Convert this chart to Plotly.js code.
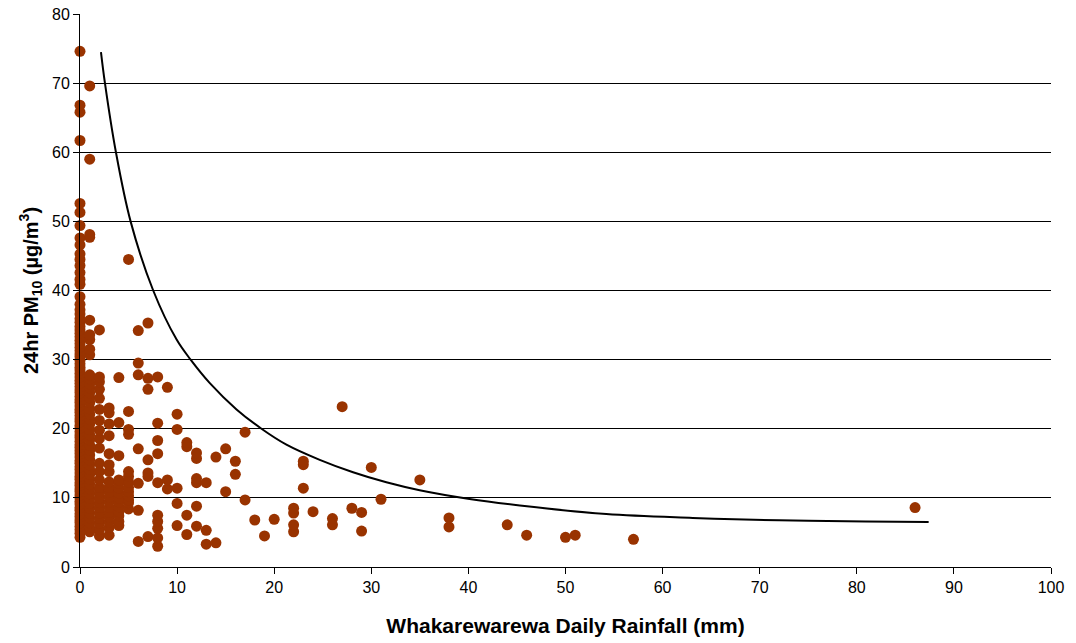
<!DOCTYPE html>
<html>
<head>
<meta charset="utf-8">
<script src="https://cdn.plot.ly/plotly-3.0.1.min.js"></script>
<style>
html,body{margin:0;padding:0;background:#fff;}
#chart{width:1076px;height:643px;}
</style>
</head>
<body>
<div id="chart"></div>
<script>
// Daily rainfall (mm) values at which PM10 observations occur
const rainfallMm = [0,1,2,3,4,5,6,7,8,9,10,11,12,13,14,15,16,17,18,19,20,22,23,24,26,27,28,29,30,31,35,38,44,46,50,51,57,86];

// 24hr PM10 observations (µg/m3) for each rainfall value above
const pm10ByRainfall = [
  [4.3,4.9,5.4,5.9,6.4,6.8,7.3,7.7,8.2,8.6,9.1,9.5,10.0,10.4,10.9,11.3,11.8,12.2,12.7,13.1,13.6,14.1,14.5,15.0,15.4,15.9,16.4,16.8,17.3,17.7,18.2,18.7,19.1,19.6,20.1,20.5,21.0,21.4,21.9,22.4,22.8,23.3,23.8,24.2,24.7,25.2,25.6,26.1,26.6,27.0,27.5,28.0,28.5,28.9,29.4,29.9,30.4,30.8,31.3,31.8,32.3,32.8,33.3,33.8,34.3,34.8,35.4,35.9,36.6,37.2,38.0,39.1,40.9,41.6,42.6,43.6,44.5,45.3,46.6,47.6,49.4,51.3,52.6,61.7,65.8,66.8,74.6],
  [5.1,5.7,6.4,7.1,7.8,8.5,9.2,9.9,10.6,11.3,12.0,12.7,13.4,14.1,14.8,15.5,16.2,16.9,17.6,18.4,19.1,19.9,20.7,21.4,22.1,22.9,23.8,24.5,25.2,25.9,26.5,27.2,27.8,30.7,31.5,32.9,33.6,35.7,47.7,48.1,59.0,69.6],
  [4.5,5.4,6.3,7.0,7.8,8.6,9.3,10.0,10.8,11.5,12.6,13.8,15.0,17.2,18.6,19.8,21.2,22.8,24.4,25.7,26.8,27.5,34.3],
  [4.6,5.7,6.5,7.2,7.9,8.6,9.4,10.1,10.8,11.5,12.3,13.8,14.8,16.4,19.0,20.7,22.3,23.0],
  [6.0,6.6,7.4,8.0,8.7,9.4,10.0,10.7,11.4,12.1,12.6,16.1,20.9,27.4],
  [8.4,9.3,9.7,10.3,10.9,11.5,12.3,13.1,13.8,19.2,19.9,22.5,44.5],
  [3.7,8.2,12.1,17.1,27.8,29.5,34.2],
  [4.4,13.1,13.6,15.5,25.7,27.3,35.3],
  [3.0,4.2,5.6,6.6,7.5,12.2,16.4,18.3,20.8,27.5],
  [11.3,12.6,26.0],
  [6.0,9.2,11.4,19.9,22.1],
  [4.7,7.5,17.4,18.0],
  [5.9,8.8,12.2,12.8,15.7,16.5],
  [3.3,5.3,12.2],
  [3.5,15.9],
  [10.9,17.1],
  [13.4,15.3],
  [9.7,19.5],
  [6.8],
  [4.5],
  [6.9],
  [5.1,6.1,7.8,8.5],
  [11.4,14.8,15.3],
  [8.0],
  [6.1,7.0],
  [23.2],
  [8.5],
  [5.2,7.9],
  [14.4],
  [9.8],
  [12.6],
  [5.8,7.1],
  [6.1],
  [4.6],
  [4.3],
  [4.6],
  [4.0],
  [8.6]
];

// Fitted relationship line
const curveRain = [2.16,2.57,3.7,5.21,7.54,9.95,11.39,13.37,16.12,18.69,21.26,24.69,28.12,31.55,34.98,40.12,45.3,54.2,63.1,72.0,80.9,87.4];
const curvePm10 = [74.5,70.0,60.0,50.0,40.0,32.9,30.0,26.6,22.8,20.0,17.7,15.5,13.7,12.25,11.1,9.84,8.9,7.65,7.1,6.75,6.6,6.5];

const xTicks = [0,10,20,30,40,50,60,70,80,90,100];
const yTicks = [0,10,20,30,40,50,60,70,80];

const xs = [], ys = [];
rainfallMm.forEach((r, i) => {
  pm10ByRainfall[i].forEach(v => { xs.push(r); ys.push(v); });
});

const font = "Arial, 'Liberation Sans', sans-serif";

const data = [
  {
    type: 'scatter', mode: 'markers', x: xs, y: ys, cliponaxis: false,
    marker: {color: '#993300', size: 11, line: {width: 0}},
    hoverinfo: 'x+y', showlegend: false
  },
  {
    type: 'scatter', mode: 'lines', x: curveRain, y: curvePm10,
    line: {color: '#000000', width: 2, shape: 'spline', smoothing: 1},
    showlegend: false
  }
];

const layout = {
  width: 1076, height: 643,
  margin: {l: 80, r: 25, t: 14, b: 76},
  paper_bgcolor: '#ffffff', plot_bgcolor: '#ffffff',
  font: {family: font, size: 16, color: '#000'},
  xaxis: {
    range: [0, 100], tickvals: xTicks, ticktext: xTicks.map(String),
    showgrid: false, zeroline: false,
    showline: true, linecolor: '#000', linewidth: 1,
    ticks: 'outside', ticklen: 6, tickcolor: '#000',
    tickfont: {family: font, size: 16, color: '#000'},
    automargin: false,
    title: {text: '<b>Whakarewarewa Daily Rainfall (mm)</b>', font: {family: font, size: 21, color: '#000'}, standoff: 23}
  },
  yaxis: {
    range: [0, 80], tickvals: yTicks, ticktext: yTicks.map(String),
    showgrid: true, gridcolor: '#000', gridwidth: 1, zeroline: false,
    showline: true, linecolor: '#000', linewidth: 1,
    ticks: 'outside', ticklen: 6, tickcolor: '#000',
    tickfont: {family: font, size: 16, color: '#000'},
    automargin: false,
    title: {text: '<b>24hr PM<sub>10</sub> (µg/m<sup>3</sup>)</b>', font: {family: font, size: 20, color: '#000'}, standoff: 8}
  }
};

Plotly.newPlot('chart', data, layout, {displayModeBar: false, staticPlot: true});
</script>
</body>
</html>
